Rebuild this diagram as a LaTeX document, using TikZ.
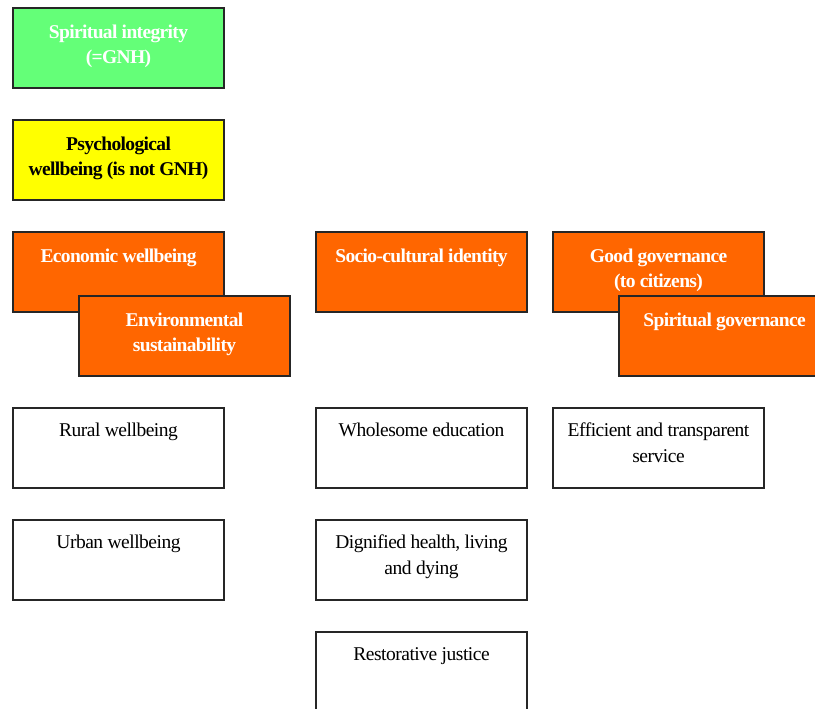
\documentclass[tikz,border=0pt]{standalone}
\usepackage{fontspec}
\setmainfont{Liberation Serif}[LetterSpace=-2.5, BoldFeatures={LetterSpace=-3.3}]
\usetikzlibrary{positioning}
\definecolor{gnhgreen}{RGB}{100,255,120}
\definecolor{gnhyellow}{RGB}{255,255,0}
\definecolor{gnhorange}{RGB}{255,102,0}

\begin{document}
\begin{tikzpicture}[x=1pt, y=-1pt,
        node distance=32pt and 92pt,
        cell/.style={draw=black!85, line width=1.1pt, minimum width=211pt, minimum height=80pt, inner sep=0pt, outer sep=0pt, anchor=north west},
        plain/.style={anchor=north, yshift=-15pt, inner sep=0pt, align=center, font=\fontsize{19.5}{25.5}\selectfont},
        strong/.style={plain, yshift=-1.5pt, font=\fontsize{19.5}{25.5}\selectfont\bfseries}]
        \useasboundingbox (0,0) rectangle (815,709);
        % levels above the domains
        \node[cell, fill=gnhgreen, label={[strong, text=white]north:{Spiritual integrity\\(=GNH)}}] (integ) at (13,8) {};
        \node[cell, fill=gnhyellow, below=of integ, label={[strong]north:{Psychological\\wellbeing (is not GNH)}}] (psych) {};

        % domains
        \node[cell, fill=gnhorange, below=of psych, label={[strong, text=white]north:{Economic wellbeing}}] (econ) {};
        \node[cell, fill=gnhorange, below right=-16pt and -145pt of econ, label={[strong, text=white]north:{Environmental\\sustainability}}] (envir) {};
        \node[cell, fill=gnhorange, right=92pt of econ, label={[strong, text=white]north:{Socio-cultural identity}}] (socio) {};
        \node[cell, fill=gnhorange, right=26pt of socio, label={[strong, text=white]north:{Good governance\\(to citizens)}}] (govern) {};
        \node[cell, fill=gnhorange, below right=-16pt and -145pt of govern, label={[strong, text=white]north:{Spiritual governance}}] (spgov) {};

        % areas
        \node[cell, below=96pt of econ, label={[plain]north:{Rural wellbeing}}] (rural) {};
        \node[cell, below=of rural, label={[plain]north:{Urban wellbeing}}] (urban) {};
        \node[cell, below=96pt of socio, label={[plain]north:{Wholesome education}}] (educ) {};
        \node[cell, below=of educ, label={[plain]north:{Dignified health, living\\and dying}}] (health) {};
        \node[cell, below=of health, label={[plain]north:{Restorative justice}}] (justice) {};
        \node[cell, below=96pt of govern, label={[plain]north:{Efficient and transparent\\service}}] (service) {};
    \end{tikzpicture}
\end{document}
